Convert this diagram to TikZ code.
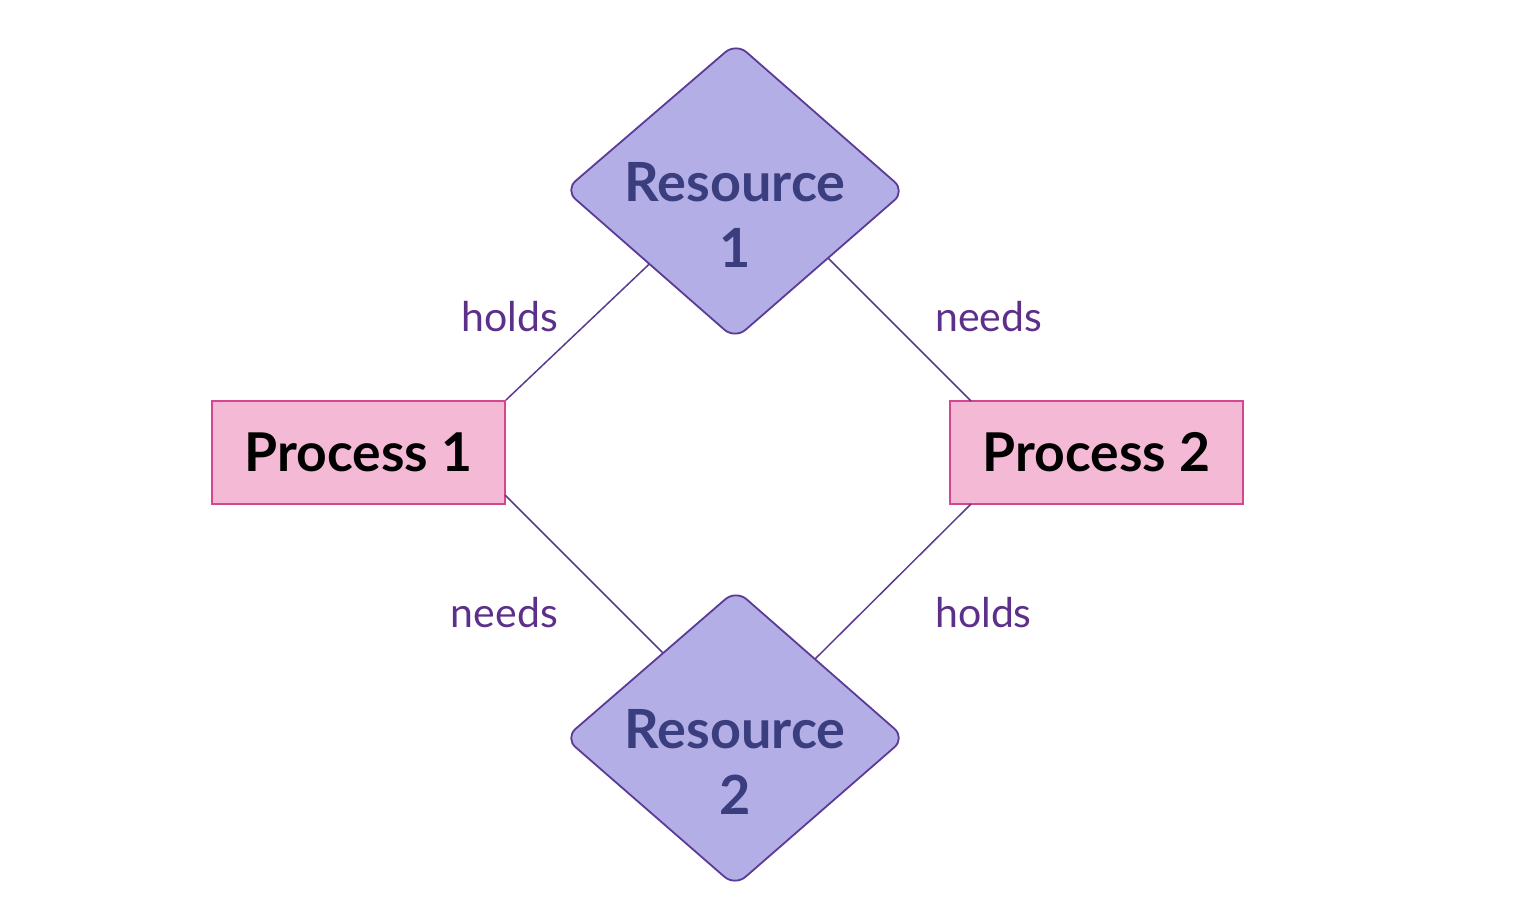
\documentclass[tikz,border=0pt]{standalone}
\usepackage{fontspec}
\setmainfont{Lato}
\definecolor{resfill}{HTML}{B3AEE6}
\definecolor{resdraw}{HTML}{5C3A98}
\definecolor{restext}{HTML}{3A3D7E}
\definecolor{procfill}{HTML}{F4B9D5}
\definecolor{procdraw}{HTML}{D4478F}
\definecolor{lbltext}{HTML}{5C2F8A}
\definecolor{edgecol}{HTML}{5C3A8E}
\begin{document}
\begin{tikzpicture}[x=1pt,y=-1pt,
  resshape/.style={fill=resfill,draw=resdraw,line width=1.8pt,rounded corners=14pt,line join=round},
  restxt/.style={text=restext,font=\fontsize{54}{66}\selectfont\bfseries,align=center,inner sep=0pt},
  procbox/.style={fill=procfill,draw=procdraw,line width=1.8pt,minimum width=293pt,minimum height=103pt,inner sep=0pt,
    font=\fontsize{53.5}{60}\selectfont\bfseries,text=black},
  lbl/.style={text=lbltext,font=\fontsize{41}{50}\selectfont,inner sep=0pt},
  conn/.style={draw=edgecol,line width=1.5pt}]
\useasboundingbox (0,0) rectangle (1532,915);
% nodes
\node[procbox] (p1) at (358.5,452.5) {Process 1};
\node[procbox] (p2) at (1096.5,452.5) {Process 2};
% connector endpoints on diamonds
\coordinate (r1a) at (652.5,261);
\coordinate (r1b) at (825,255);
\coordinate (r2a) at (666,656);
\coordinate (r2b) at (812,662);
\coordinate (p2a) at (971,401);
\coordinate (p2b) at (971,504);
\coordinate (p1b) at (505,495);
% connectors
\draw[conn] (p1.north east) -- (r1a);
\draw[conn] (p2a) -- (r1b);
\draw[conn] (p1b) -- (r2a);
\draw[conn] (p2b) -- (r2b);
% diamonds
\path[resshape] (736,43) -- (905,191) -- (735,339) -- (565,190) -- cycle;
\path[resshape] (736,590) -- (905,738) -- (735,886) -- (565,738) -- cycle;
\node[restxt] (r1) at (735,215) {Resource\\1};
\node[restxt] (r2) at (735,762) {Resource\\2};
% labels
\node[lbl,anchor=base east] (l1) at (558,331) {holds};
\node[lbl,anchor=base west] (l2) at (935,331) {needs};
\node[lbl,anchor=base east] (l3) at (558,627) {needs};
\node[lbl,anchor=base west] (l4) at (935,627) {holds};
\end{tikzpicture}
\end{document}
